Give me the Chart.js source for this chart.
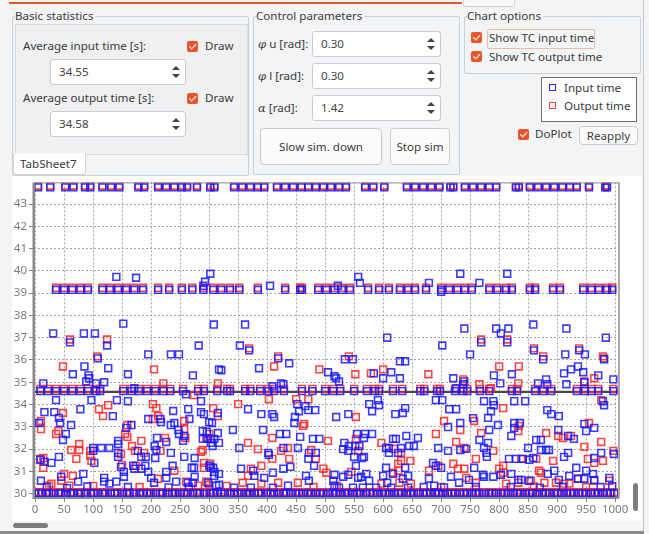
<!DOCTYPE html>
<html>
<head>
<meta charset="utf-8">
<script src="https://cdn.jsdelivr.net/npm/chart.js@4/dist/chart.umd.min.js"></script>
<style>
  html, body { margin: 0; padding: 0; }
  body { width: 649px; height: 534px; background: #f3f4f5; position: relative; overflow: hidden;
         font-family: "Noto Sans", "Open Sans", sans-serif; font-size: 11.6px; color: #3b3b3b; }
  .abs { position: absolute; }
  .group { position: absolute; border: 1px solid #cdd0d3; border-radius: 2px; }
  .gtitle { position: absolute; background: #f3f4f5; padding-right: 2px; line-height: 14px; }
  .txt { position: absolute; white-space: nowrap; line-height: 14px; }
  .spin { position: absolute; background: #fff; border: 1px solid #c9cbce; border-radius: 3px; box-sizing: border-box; }
  .spin .val { position: absolute; left: 8px; top: 50%; transform: translateY(-50%); line-height: 14px; color: #444; }
  .spin .up, .spin .dn { position: absolute; right: 5px; width: 0; height: 0; border-left: 4px solid transparent; border-right: 4px solid transparent; }
  .spin .up { top: 6px; border-bottom: 4px solid #444; }
  .spin .dn { bottom: 6px; border-top: 4px solid #444; }
  .cb { position: absolute; width: 11px; height: 11px; background: #e9552a; border-radius: 2px; }
  .cb::after { content: ""; position: absolute; left: 3.5px; top: 1px; width: 2.5px; height: 5.5px;
               border: solid #fff; border-width: 0 1.5px 1.5px 0; transform: rotate(45deg); }
  .btn { position: absolute; background: #fbfbfb; border: 1px solid #c9cbce; border-radius: 4px; box-sizing: border-box;
         display: flex; align-items: center; justify-content: center; white-space: nowrap; }
  .sq { position: absolute; width: 5px; height: 5px; border: 1.5px solid; }
</style>
</head>
<body>
<!-- strip above the panels -->
<div class="abs" style="left:9px;top:2px;width:453px;height:2px;background:#e9552a;"></div>
<div class="abs" style="left:463px;top:-10px;width:50px;height:15px;border:1px solid #cfd1d3;border-radius:3px;background:#f9f9f9;"></div>
<div class="abs" style="left:643px;top:0;width:1px;height:534px;background:#c4c6c8;"></div>

<!-- Basic statistics -->
<div class="group" style="left:12px;top:16px;width:235px;height:158px;"></div>
<div class="gtitle" style="left:15px;top:9px;">Basic statistics</div>
<div class="abs" style="left:15px;top:24px;width:231px;height:129px;background:#eff0f1;border:1px solid #d9dbdd;"></div>
<div class="txt" style="left:23px;top:39px;">Average input time [s]:</div>
<div class="cb" style="left:187px;top:41px;"></div>
<div class="txt" style="left:205px;top:39px;">Draw</div>
<div class="spin" style="left:50px;top:59px;width:136px;height:26px;"><span class="val">34.55</span><i class="up"></i><i class="dn"></i></div>
<div class="txt" style="left:23px;top:91px;">Average output time [s]:</div>
<div class="cb" style="left:187px;top:93px;"></div>
<div class="txt" style="left:205px;top:91px;">Draw</div>
<div class="spin" style="left:50px;top:111px;width:136px;height:26px;"><span class="val">34.58</span><i class="up"></i><i class="dn"></i></div>
<div class="abs" style="left:13px;top:153px;width:71px;height:21px;background:#fff;border:1px solid #d3d5d7;border-top:none;border-radius:0 0 3px 3px;"></div>
<div class="txt" style="left:20px;top:157px;">TabSheet7</div>

<!-- Control parameters -->
<div class="group" style="left:253px;top:16px;width:205px;height:157px;"></div>
<div class="gtitle" style="left:256px;top:9px;">Control parameters</div>
<div class="txt" style="left:258px;top:37px;"><i style="font-family:'DejaVu Serif',serif;">φ</i> u [rad]:</div>
<div class="spin" style="left:312px;top:31px;width:129px;height:26px;"><span class="val">0.30</span><i class="up"></i><i class="dn"></i></div>
<div class="txt" style="left:258px;top:69px;"><i style="font-family:'DejaVu Serif',serif;">φ</i> l [rad]:</div>
<div class="spin" style="left:312px;top:63px;width:129px;height:26px;"><span class="val">0.30</span><i class="up"></i><i class="dn"></i></div>
<div class="txt" style="left:258px;top:101px;"><i style="font-family:'DejaVu Serif',serif;">α</i> [rad]:</div>
<div class="spin" style="left:312px;top:95px;width:129px;height:26px;"><span class="val">1.42</span><i class="up"></i><i class="dn"></i></div>
<div class="btn" style="left:260px;top:128px;width:122px;height:37px;">Slow sim. down</div>
<div class="btn" style="left:390px;top:128px;width:60px;height:37px;">Stop sim</div>

<!-- Chart options -->
<div class="group" style="left:464px;top:16px;width:175px;height:56px;"></div>
<div class="gtitle" style="left:467px;top:9px;">Chart options</div>
<div class="cb" style="left:471px;top:32px;"></div>
<div class="abs" style="left:487px;top:29px;width:106px;height:18px;border:1px solid #f1b9a6;border-radius:2px;"></div>
<div class="txt" style="left:489px;top:31px;">Show TC input time</div>
<div class="cb" style="left:471px;top:51px;"></div>
<div class="txt" style="left:489px;top:50px;">Show TC output time</div>

<div class="abs" style="left:541px;top:77px;width:94px;height:43px;background:#fff;border:1px solid #6e6e6e;"></div>
<div class="sq" style="left:549px;top:84px;border-color:#2b2bff;"></div>
<div class="txt" style="left:564px;top:81px;">Input time</div>
<div class="sq" style="left:549px;top:102px;border-color:#ff3b3b;"></div>
<div class="txt" style="left:564px;top:99px;">Output time</div>
<div class="cb" style="left:518px;top:129px;"></div>
<div class="txt" style="left:535px;top:127px;">DoPlot</div>
<div class="btn" style="left:579px;top:126px;width:59px;height:19px;">Reapply</div>

<!-- chart widget -->
<div class="abs" style="left:12px;top:176px;width:630px;height:345px;background:#fff;"></div>
<div class="abs" style="left:633px;top:483px;width:5px;height:28px;background:#7d7d7d;border-radius:3px;"></div>
<div class="abs" style="left:12px;top:521px;width:630px;height:10px;background:#f6f6f6;"></div>
<div class="abs" style="left:13px;top:523px;width:35px;height:5px;background:#7d7d7d;border-radius:3px;"></div>
<div class="abs" style="left:0;top:531px;width:644px;height:3px;background:#8c8c8c;"></div>
<canvas id="c" width="620" height="344" style="position:absolute;left:12px;top:176px;"></canvas>

<script>
// Averages shown in the statistics panel and drawn as reference lines
const avgInputTime = 34.55;
const avgOutputTime = 34.58;

// Rows where many samples pile up (saturated / recurring times)
const inputTopLevel = 43.75;
const inputTopX = [5,26,52,66,86,95,116,131,145,178,188,212,226,240,253,262,279,302,309,343,357,371,384,395,417,431,445,459,471,484,497,510,524,536,569,583,602,641,655,669,683,697,716,721,741,755,769,783,795,829,834,853,867,881,895,909,922,934,955,983,986];
const inputBand39Level = 39.15;
const inputBand39X = [36,50,64,78,91,116,129,143,157,171,186,212,231,253,271,290,307,321,336,352,384,431,457,460,488,502,516,529,543,574,593,610,629,643,655,674,700,714,728,741,753,783,797,812,822,853,862,893,905,945,959,972,986,995];
const inputBand35Level = 34.6;
const inputBand35X = [9,22,36,50,64,78,91,105,112,152,166,179,193,207,221,233,255,281,291,314,331,336,362,371,388,402,412,429,460,478,500,514,526,550,572,586,593,617,633,664,671,693,698,724,738,745,767,783,822,831,862,876,890,934,948,959,971,997];
const inputFloorLevel = 30.0;
const inputFloorX = [0,6,11,19,24,32,40,45,53,61,66,74,79,87,96,101,108,116,121,130,137,142,150,158,163,171,180,186,193,199,208,215,220,229,236,242,250,257,263,272,279,284,292,301,307,314,321,327,336,343,349,356,364,370,378,385,390,399,406,412,420,428,433,441,449,455,462,470,476,484,491,497,505,513,519,526,534,540,548,555,561,570,577,583,590,598,604,611,619,626,632,640,647,653,661,669,675,682,690,696,703,711,718,724,732,739,745,753,760,766,774,782,788,795,803,809,816,824,831,837,845,852,858,866,874,880,887,895,901,908,916,923,929,937,944,950,958,965,971,979,986,992,999];

// Remaining input time samples [sample, seconds]
const inputScatter = [
  [140,39.73],[174,39.69],[302,39.87],[293,39.51],[290,39.33],[405,39.33],[522,39.33],[557,39.73],[560,39.46],[679,39.46],[700,39.06],[733,39.87],[766,39.46],[814,39.87],
  [31,37.19],[60,36.79],[84,37.19],[103,37.19],[124,36.65],[152,37.63],[195,36.25],[234,36.25],[248,36.25],[282,36.65],[308,37.59],[362,37.59],[353,36.65],[369,36.43],[607,37.0],[740,37.41],[795,37.41],[816,37.41],[803,37.19],[859,37.59],[916,37.41],[984,37.0],[702,36.65],[769,36.79],[814,36.79],[860,36.43],[750,36.25],[914,36.25],[948,36.25],[938,36.43],
  [85,35.71],[108,36.07],[126,35.63],[65,35.36],[92,35.31],[93,35.18],[88,35.04],[14,34.95],[105,34.95],[119,35.0],[160,35.36],[171,34.73],[272,35.31],[317,35.58],[419,36.07],[438,35.85],[386,35.63],[321,35.54],[534,36.03],[548,36.03],[505,35.45],[516,35.27],[519,35.18],[524,35.04],[600,35.18],[614,35.45],[629,35.18],[629,35.94],[638,35.94],[584,35.4],[424,34.95],[428,34.91],[409,34.82],[876,36.03],[981,36.03],[936,35.71],[791,35.31],[822,35.36],[802,34.95],[721,35.18],[740,35.04],[738,34.91],[726,34.73],[867,34.95],[881,35.13],[883,34.91],[912,35.4],[924,35.58],[945,35.45],[947,35.0],[971,35.31],[997,35.13],[916,34.91],
  [97,34.2],[78,33.79],[141,34.2],[16,33.66],[36,34.2],[33,33.66],[41,33.4],[43,33.17],[62,33.08],[7,33.17],[134,33.48],[160,34.15],[195,33.35],[216,33.35],[217,33.21],[238,33.71],[234,33.08],[240,33.17],[260,34.46],[266,33.35],[264,33.79],[286,33.66],[291,33.57],[300,33.21],[305,33.17],[286,34.15],[452,34.02],[466,33.93],[471,33.75],[483,33.75],[455,33.7],[367,33.79],[390,33.57],[409,33.57],[412,33.44],[447,33.17],[448,33.44],[519,33.44],[540,33.57],[576,34.02],[581,33.7],[591,34.2],[593,33.97],[621,33.57],[634,33.62],[638,33.84],[315,33.62],[691,34.2],[702,34.2],[790,34.15],[774,34.15],[826,34.15],[845,34.15],[979,34.15],[981,33.97],[714,33.79],[726,33.79],[791,33.97],[786,33.7],[781,33.4],[883,33.75],[890,33.57],[903,33.48],[733,33.17],[755,33.39],[798,33.08],[826,33.17],[836,33.17],[947,33.13],
  [157,32.95],[166,33.08],[143,32.37],[143,32.23],[48,32.41],[53,32.68],[100,32.05],[114,32.05],[128,32.05],[206,32.14],[210,32.5],[226,32.32],[247,32.86],[248,32.68],[255,32.37],[257,32.59],[289,32.81],[296,32.77],[289,32.46],[303,32.46],[303,32.28],[306,32.14],[315,32.72],[341,32.86],[393,32.86],[422,32.68],[433,32.68],[457,32.55],[479,32.46],[490,32.46],[533,32.28],[541,32.14],[552,32.14],[555,32.68],[569,32.68],[581,32.68],[567,32.5],[617,32.46],[622,32.46],[640,32.59],[660,32.5],[653,32.14],[297,32.46],[309,32.46],[317,32.28],[352,32.05],[428,32.05],[453,32.05],[559,32.14],[605,32.05],[610,32.05],[631,32.05],[645,32.14],[712,32.99],[826,32.95],[964,32.95],[950,32.81],[902,32.86],[919,32.59],[929,32.46],[783,32.86],[766,32.41],[781,32.28],[821,32.59],[864,32.41],[872,32.41],[695,32.05],[743,32.01],[774,32.05],[850,32.05],
  [9,31.52],[16,31.43],[28,31.38],[41,31.65],[100,31.92],[102,31.38],[143,31.83],[143,31.65],[148,31.2],[169,31.25],[171,31.12],[183,31.12],[190,31.25],[183,31.65],[191,31.65],[177,31.92],[209,31.96],[207,31.6],[234,31.83],[237,31.25],[257,31.65],[270,31.16],[274,31.16],[275,31.6],[303,31.16],[402,31.83],[403,31.74],[472,31.83],[484,31.83],[471,31.56],[531,32.0],[564,31.6],[550,31.65],[567,31.65],[540,31.92],[610,31.83],[626,31.83],[605,31.16],[638,31.16],[300,31.25],[307,31.16],[355,31.12],[376,31.03],[428,31.12],[440,31.2],[481,31.25],[553,31.25],[712,31.92],[733,31.96],[778,31.83],[779,31.65],[859,31.6],[872,31.96],[881,31.96],[886,31.96],[919,31.83],[912,31.65],[964,31.6],[976,31.83],[998,31.78],[817,31.56],[829,31.56],[841,31.56],[852,31.52],[700,31.16],[691,31.25],[686,31.38],[757,31.16],[895,31.03],[933,31.16],[950,31.03],
  [10,30.58],[45,30.76],[83,30.89],[119,30.71],[119,30.54],[128,30.45],[74,30.54],[153,30.98],[153,30.76],[140,30.54],[195,30.98],[200,30.71],[205,30.49],[226,30.98],[226,30.71],[243,30.54],[263,30.49],[272,30.49],[275,30.76],[298,30.49],[317,30.4],[309,30.98],[309,30.8],[317,30.89],[378,30.8],[395,30.71],[410,30.94],[467,30.8],[472,30.58],[514,30.58],[516,30.85],[531,30.76],[540,30.85],[557,30.71],[562,30.76],[571,30.89],[576,30.58],[600,30.8],[607,30.49],[617,30.89],[634,30.67],[643,30.8],[516,30.36],[524,30.27],[312,30.36],[343,30.27],[372,30.27],[410,30.27],[436,30.36],[548,30.27],[565,30.27],[588,30.27],[614,30.27],[643,30.27],[772,30.85],[803,30.85],[821,30.89],[833,30.62],[838,30.62],[852,30.58],[884,30.89],[962,30.89],[990,30.71],[903,30.62],[921,30.8],[936,30.67],[947,30.67],[964,30.62],[717,30.76],[731,30.49],[748,30.62],[774,30.76],[790,30.76],[679,30.67],[688,30.36],
  [20,30.3],[55,30.25],[90,30.32],[160,30.3],[230,30.28],[265,30.3],[670,30.3],[705,30.28],[760,30.3],[820,30.3],[870,30.27],[910,30.3],[975,30.3],[995,30.33]
];

// Output time rows (they mostly coincide with the input rows, a little higher)
const outputTopLevel = 43.82;
const outputTopX = inputTopX;
const outputBand39Level = 39.24;
const outputBand39X = inputBand39X;
const outputBand35Level = 34.7;
const outputBand35X = inputBand35X;
const outputFloorLevel = 30.07;
const outputFloorX = inputFloorX;

// Remaining output time samples [sample, seconds]
const outputScatter = [
  [60,36.92],[124,36.92],[107,36.16],[369,36.52],[419,36.16],[541,36.16],[769,36.92],[814,36.92],[860,36.52],[938,36.52],[876,36.16],[979,36.16],
  [48,35.71],[10,33.26],[10,32.9],[48,33.62],[36,32.68],[40,32.81],[110,33.79],[117,33.48],[126,33.97],[62,31.96],[76,31.96],[76,32.23],[95,31.92],[95,31.7],[97,31.47],[71,31.56],[9,31.56],[14,31.6],[14,31.16],[50,30.89],[45,30.58],[65,30.8],[28,30.45],[24,30.36],[59,30.36],[148,31.78],[150,31.29],[167,32.14],[172,31.92],[155,32.68],[159,32.55],[159,33.08],[183,32.37],[188,31.83],[174,31.25],[203,33.35],[203,34.02],[209,33.84],[212,33.48],[205,35.58],[221,34.95],[216,31.92],[224,32.5],[212,30.67],[240,31.03],[257,32.9],[257,33.26],[274,34.42],[259,32.5],[286,31.88],[289,31.96],[291,31.38],[295,32.5],[300,32.68],[307,33.84],[315,34.95],[260,30.54],[295,30.54],[300,30.4],[281,30.36],[315,33.48],
  [412,35.71],[490,35.58],[552,35.36],[579,35.4],[600,35.58],[403,34.24],[450,34.24],[350,34.02],[471,34.24],[553,33.44],[464,33.13],[462,33.04],[505,32.37],[553,32.46],[367,32.28],[409,32.5],[384,32.0],[424,31.92],[436,32.05],[476,31.96],[438,31.56],[484,31.56],[409,31.56],[557,31.92],[597,32.28],[619,32.01],[631,31.83],[631,31.47],[647,31.47],[626,31.34],[372,31.12],[390,31.25],[367,30.8],[497,31.12],[502,30.94],[545,30.98],[617,30.94],[626,31.03],[302,31.34],[291,31.16],[358,30.49],[390,30.45],[419,30.49],[453,30.49],[597,30.45],[628,30.49],[648,30.45],
  [800,35.71],[834,35.71],[833,34.95],[678,35.36],[738,35.13],[766,34.91],[786,34.73],[947,35.04],[964,35.18],[981,36.07],[976,34.2],[807,33.84],[705,33.26],[757,33.26],[834,33.04],[833,32.81],[733,32.86],[769,32.72],[691,32.68],[881,32.72],[902,32.59],[910,32.5],[924,32.59],[955,33.17],[976,32.32],[947,32.1],[953,31.56],[964,31.38],[979,31.47],[997,31.92],[726,32.32],[740,32.05],[760,31.56],[790,31.92],[807,31.25],[838,31.56],[869,31.03],[893,31.47],[864,31.56],[679,31.03],[695,31.25],[721,31.34],[729,31.12],[740,31.12],[743,30.71],[760,30.49],[800,31.12],[807,30.94],[812,30.45],[833,30.49],[855,30.58],[872,30.94],[878,30.49],[898,30.49],[912,30.45],[921,30.45],[936,30.67],[964,30.58],[990,30.58],
  [100,30.35],[180,30.3],[330,30.35],[480,30.3],[520,30.35],[700,30.3],[860,30.32],[950,30.3]
];

// Axis ranges and tick spacing
const xRange = [-2, 1005];
const xStep = 50;
const yRange = [29.85, 43.97];
const yStep = 1;

function rowPoints(xs, level) { return xs.map(x => ({ x: x, y: level })); }
function pairPoints(list) { return list.map(p => ({ x: p[0], y: p[1] })); }

const inputPoints = [].concat(
  rowPoints(inputTopX, inputTopLevel), rowPoints(inputBand39X, inputBand39Level),
  rowPoints(inputBand35X, inputBand35Level), rowPoints(inputFloorX, inputFloorLevel),
  pairPoints(inputScatter));
const outputPoints = [].concat(
  rowPoints(outputTopX, outputTopLevel), rowPoints(outputBand39X, outputBand39Level),
  rowPoints(outputBand35X, outputBand35Level), rowPoints(outputFloorX, outputFloorLevel),
  pairPoints(outputScatter));

// Frame around the plot plus the two average lines
const framePlugin = {
  id: 'frame',
  beforeDatasetsDraw(chart) {
    const { ctx, chartArea: a, scales } = chart;
    ctx.save();
    ctx.strokeStyle = '#4a4a4a';
    ctx.lineWidth = 1.5;
    [avgInputTime, avgOutputTime].forEach(v => {
      const y = scales.y.getPixelForValue(v);
      ctx.beginPath(); ctx.moveTo(a.left, y); ctx.lineTo(a.right, y); ctx.stroke();
    });
    ctx.restore();
  },
  afterDraw(chart) {
    const { ctx, chartArea: a } = chart;
    ctx.save();
    ctx.strokeStyle = '#8a8a8a';
    ctx.lineWidth = 1;
    ctx.strokeRect(a.left + 0.5, a.top + 0.5, a.right - a.left, a.bottom - a.top);
    ctx.lineWidth = 2;
    ctx.strokeStyle = '#8a8a8a';
    ctx.beginPath(); ctx.moveTo(a.left - 0.5, a.top); ctx.lineTo(a.left - 0.5, a.bottom + 1); ctx.lineTo(a.right + 1, a.bottom + 1); ctx.stroke();
    ctx.strokeStyle = '#a9a9a9';
    ctx.beginPath(); ctx.moveTo(a.right + 1, a.top); ctx.lineTo(a.right + 1, a.bottom + 1); ctx.stroke();
    ctx.restore();
  }
};

const tickFont = { family: "'Noto Sans', sans-serif", size: 11.5 };

new Chart(document.getElementById('c'), {
  type: 'scatter',
  data: {
    datasets: [
      { label: 'Input time', data: inputPoints, pointStyle: 'rect', pointRadius: 4.8,
        borderColor: 'rgba(25,25,255,0.85)', backgroundColor: 'rgba(0,0,0,0)', borderWidth: 1.6, pointHoverRadius: 4.8 },
      { label: 'Output time', data: outputPoints, pointStyle: 'rect', pointRadius: 4.8,
        borderColor: 'rgba(255,35,35,0.85)', backgroundColor: 'rgba(0,0,0,0)', borderWidth: 1.6, pointHoverRadius: 4.8 }
    ]
  },
  options: {
    responsive: false,
    devicePixelRatio: 1,
    animation: false,
    events: [],
    layout: { padding: { left: 0, right: 14, top: 5, bottom: 0 } },
    plugins: { legend: { display: false }, tooltip: { enabled: false } },
    scales: {
      x: {
        type: 'linear', min: xRange[0], max: xRange[1],
        afterBuildTicks(s) { s.ticks = s.ticks.filter(t => t.value >= 0 && t.value % xStep === 0); },
        afterFit(s) { s.height = 23; },
        ticks: { stepSize: xStep, includeBounds: false, font: tickFont, color: '#7b7b7b', padding: 1, maxRotation: 0, autoSkip: false,
                 callback: v => String(v) },
        grid: { color: '#a4a4a4', lineWidth: 1, tickLength: 5, tickColor: '#808080', tickBorderDash: [] },
        border: { display: false, dash: [2, 2] }
      },
      y: {
        type: 'linear', min: yRange[0], max: yRange[1],
        afterBuildTicks(s) { s.ticks = s.ticks.filter(t => Math.abs(t.value - Math.round(t.value)) < 1e-6 && t.value >= 30); },
        afterFit(s) { s.width = 22; s.paddingTop = 0; s.paddingBottom = 0; },
        ticks: { stepSize: yStep, includeBounds: false, font: tickFont, color: '#7b7b7b', padding: 2, autoSkip: false,
                 callback: v => String(v) },
        grid: { color: '#a4a4a4', lineWidth: 1, tickLength: 5, tickColor: '#808080', tickBorderDash: [] },
        border: { display: false, dash: [2, 2] }
      }
    }
  },
  plugins: [framePlugin]
});
</script>
</body>
</html>
